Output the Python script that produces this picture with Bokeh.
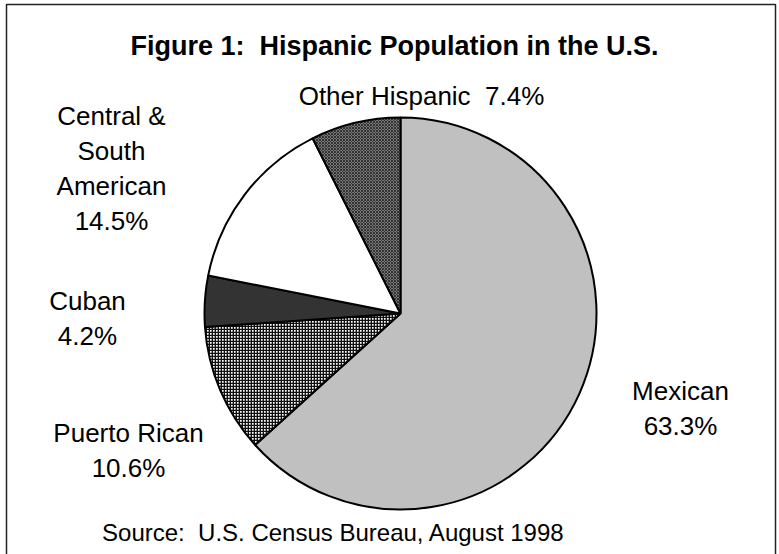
import math
from bokeh.plotting import figure
from bokeh.models import Range1d, ColumnDataSource
from bokeh.core.properties import value
from bokeh.embed import file_html
from bokeh.resources import INLINE

# ---- data ----
categories = ["Mexican", "Puerto Rican", "Cuban", "Central & South American", "Other Hispanic"]
percents = [63.3, 10.6, 4.2, 14.5, 7.4]
label_lines = [
    ["Mexican", "63.3%"],
    ["Puerto Rican", "10.6%"],
    ["Cuban", "4.2%"],
    ["Central &", "South", "American", "14.5%"],
    ["Other Hispanic\u00a0 7.4%"],
]
title_text = "Figure 1:\u00a0 Hispanic Population in the U.S."
source_text = "Source:\u00a0 U.S. Census Bureau, August 1998"

# ---- styles / layout ----
W, H = 779, 554
FONT = "Liberation Sans"
fills = ["#c0c0c0", "#ffffff", "#333333", "#ffffff", "#9a9a9a"]
hatches = [" ", "+", " ", " ", "x"]
hatch_colors = ["black", "#111111", "black", "black", "#303030"]
hatch_weights = [1, 1.7, 1, 1, 1.2]
cx, cy_img, r = 400, 313, 196
# label anchors (image coords: x, first-line y), line spacing
label_pos = [(680, 390), (128, 432), (87, 300), (111, 115), (421, 95)]
line_gap = 35

def Y(y_img):
    return H - y_img

p = figure(width=W, height=H, output_backend="svg", toolbar_location=None,
           x_range=Range1d(0, W), y_range=Range1d(0, H),
           min_border=0, min_border_left=0, min_border_right=0,
           min_border_top=0, min_border_bottom=0)
p.xaxis.visible = False
p.yaxis.visible = False
p.grid.visible = False
p.outline_line_color = None
p.background_fill_color = "white"
p.border_fill_color = "white"

# frame border (left, top, right)
p.line([6, 6, 775, 775], [Y(560), Y(4), Y(4), Y(560)], line_color="#222222", line_width=1.5)

# pie wedges
total = sum(percents)
starts, ends = [], []
cum = 0.0
for v in percents:
    starts.append(math.pi / 2 - 2 * math.pi * cum / total)
    cum += v
    ends.append(math.pi / 2 - 2 * math.pi * cum / total)

for i in range(len(percents)):
    p.wedge(x=cx, y=Y(cy_img), radius=r, start_angle=starts[i], end_angle=ends[i],
            direction="clock", fill_color=fills[i], line_color="black",
            line_width=2, hatch_pattern=hatches[i], hatch_color=hatch_colors[i],
            hatch_scale=3, hatch_weight=hatch_weights[i])

# labels
xs, ys, ts = [], [], []
for lines, (lx, ly) in zip(label_lines, label_pos):
    for i, t in enumerate(lines):
        xs.append(lx)
        ys.append(Y(ly + i * line_gap))
        ts.append(t)
p.text(x=xs, y=ys, text=ts, text_font=value(FONT), text_font_size=value("26px"),
       text_align="center", text_baseline="middle", text_color="black")

p.text(x=[394], y=[Y(45)], text=[title_text], text_font=value(FONT),
       text_font_size=value("27px"), text_font_style="bold",
       text_align="center", text_baseline="middle", text_color="black")
p.text(x=[333], y=[Y(532)], text=[source_text], text_font=value(FONT),
       text_font_size=value("24px"), text_align="center", text_baseline="middle",
       text_color="black")

open("out.html", "w").write(file_html(p, INLINE))
